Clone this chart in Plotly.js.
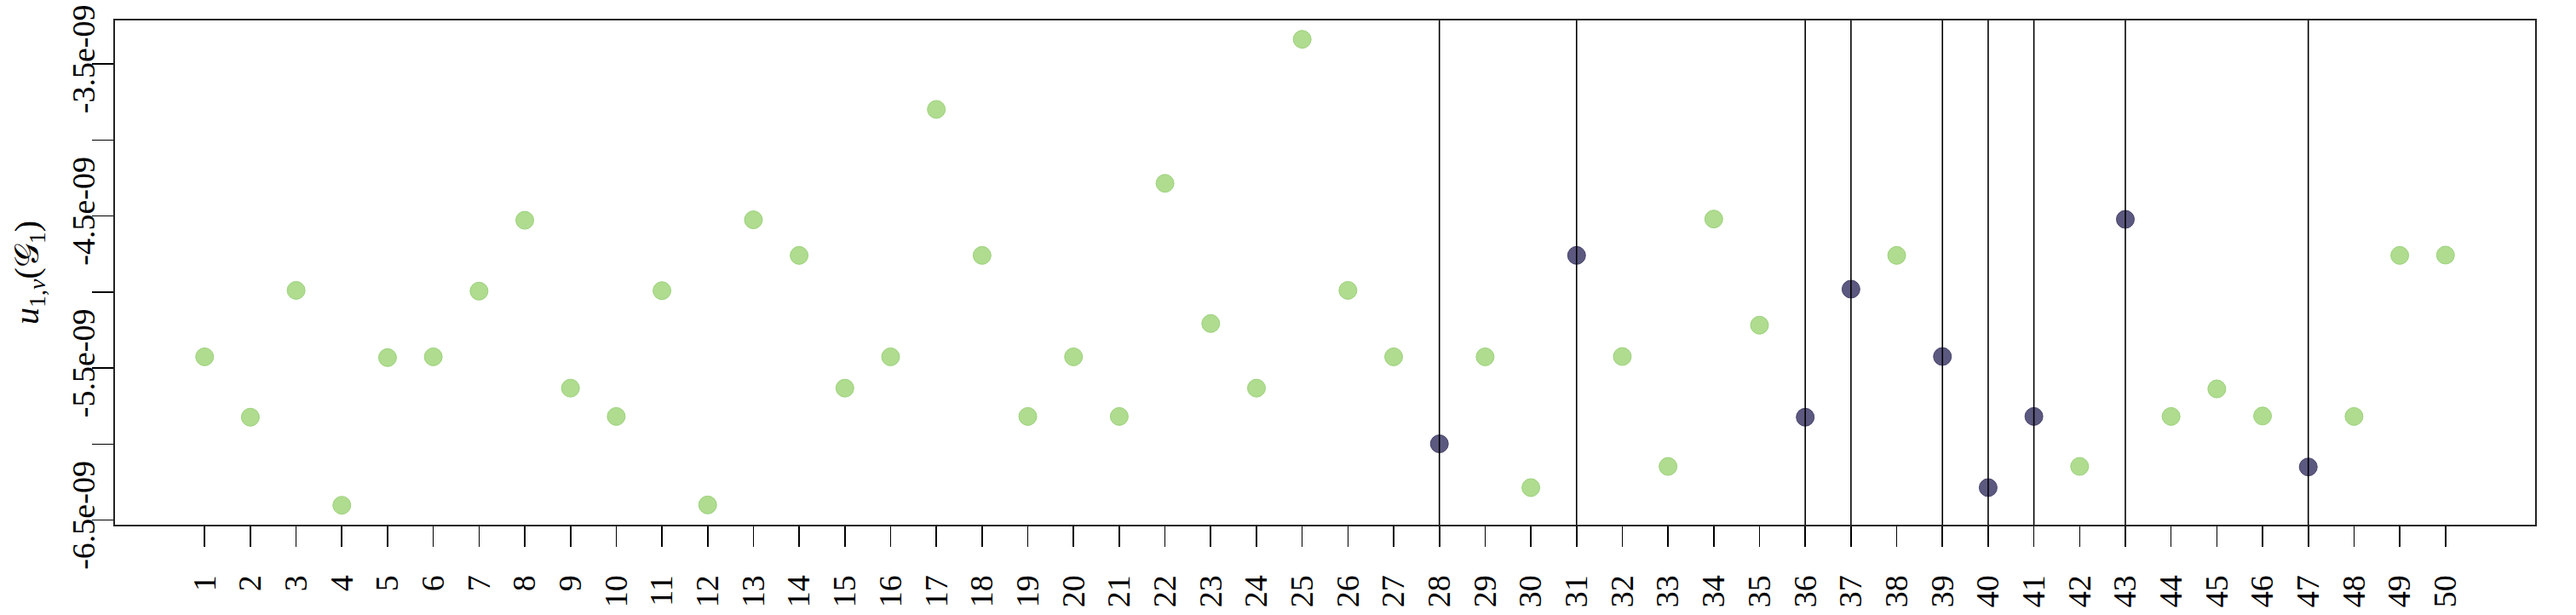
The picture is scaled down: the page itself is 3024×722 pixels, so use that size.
<!DOCTYPE html>
<html>
<head>
<meta charset="utf-8">
<script src="https://cdn.plot.ly/plotly-3.0.1.min.js"></script>
<style>html,body{margin:0;padding:0;background:#fff;}#chart{width:3024px;height:722px;}</style>
</head>
<body>
<div id="chart"></div>
<script>
// Node indices (x categories)
const nodes = [1,2,3,4,5,6,7,8,9,10,11,12,13,14,15,16,17,18,19,20,21,22,23,24,25,26,27,28,29,30,31,32,33,34,35,36,37,38,39,40,41,42,43,44,45,46,47,48,49,50];
// u_{1,v}(G_1) values for each node
const values = [
  -5.426e-9, -5.823e-9, -4.989e-9, -6.402e-9, -5.431e-9, -5.426e-9, -4.994e-9, -4.528e-9, -5.632e-9, -5.818e-9,
  -4.991e-9, -6.400e-9, -4.525e-9, -4.759e-9, -5.632e-9, -5.426e-9, -3.799e-9, -4.759e-9, -5.818e-9, -5.426e-9,
  -5.818e-9, -4.285e-9, -5.207e-9, -5.632e-9, -3.338e-9, -4.989e-9, -5.426e-9, -5.998e-9, -5.426e-9, -6.286e-9,
  -4.759e-9, -5.424e-9, -6.147e-9, -4.520e-9, -5.218e-9, -5.823e-9, -4.981e-9, -4.759e-9, -5.424e-9, -6.286e-9,
  -5.818e-9, -6.147e-9, -4.522e-9, -5.818e-9, -5.637e-9, -5.815e-9, -6.150e-9, -5.818e-9, -4.759e-9, -4.757e-9
];
// Highlighted nodes (dark markers with vertical lines)
const highlighted = [28,31,36,37,39,40,41,43,47];
// Y tick positions and labels
const yTickVals = [-6.5e-9, -6.0e-9, -5.5e-9, -5.0e-9, -4.5e-9, -4.0e-9, -3.5e-9];
const yTickText = ['-6.5e-09', ' ', '-5.5e-09', ' ', '-4.5e-09', ' ', '-3.5e-09'];
const xTickText = nodes.map(String);
const yRange = [-6.53e-9, -3.214e-9];

const isHi = nodes.map(n => highlighted.includes(n));
const normX = nodes.filter((n, i) => !isHi[i]);
const normY = values.filter((v, i) => !isHi[i]);
const hiX = nodes.filter((n, i) => isHi[i]);
const hiY = values.filter((v, i) => isHi[i]);

const fontFam = 'Liberation Serif, serif';

const traces = [
  {x: normX, y: normY, type: 'scatter', mode: 'markers', yaxis: 'y',
   marker: {size: 21, color: 'rgba(168,217,134,0.92)', line: {color: 'rgba(150,206,115,0.9)', width: 1}},
   showlegend: false, hoverinfo: 'x+y'},
  {x: hiX, y: hiY, type: 'scatter', mode: 'markers', yaxis: 'y2',
   marker: {size: 21, color: 'rgba(70,66,110,0.88)', line: {color: 'rgba(60,56,96,0.9)', width: 1}},
   showlegend: false, hoverinfo: 'x+y'}
];

const shapes = highlighted.map(n => ({
  type: 'line', xref: 'x', yref: 'paper', x0: n, x1: n, y0: 0, y1: 1,
  line: {color: '#000', width: 1.6}, layer: 'above'
}));

const layout = {
  width: 3024, height: 722,
  margin: {l: 135, r: 48, t: 24, b: 106, pad: 0},
  paper_bgcolor: '#fff', plot_bgcolor: '#fff',
  font: {family: fontFam, color: '#000', size: 38},
  showlegend: false,
  xaxis: {
    range: [-0.96, 51.96], tickmode: 'array', tickvals: nodes, ticktext: xTickText,
    tickangle: -90, ticks: 'outside', ticklen: 24, tickwidth: 1.6, tickcolor: '#000',
    ticklabelstandoff: 18,
    showline: true, mirror: true, linecolor: '#222', linewidth: 2,
    showgrid: false, zeroline: false, automargin: false,
    tickfont: {family: fontFam, size: 38, color: '#000'}
  },
  // main y axis: frame and outward tick marks
  yaxis: {
    range: yRange, tickmode: 'array', tickvals: yTickVals,
    ticks: 'outside', ticklen: 25, tickwidth: 1.6, tickcolor: '#000',
    showticklabels: false,
    showline: true, mirror: true, linecolor: '#222', linewidth: 2,
    showgrid: false, zeroline: false, automargin: false
  },
  // overlaid y axis: tick labels and title
  yaxis2: {
    overlaying: 'y', side: 'left', anchor: 'x',
    range: yRange, tickmode: 'array', tickvals: yTickVals, ticktext: yTickText,
    tickangle: -90, ticks: '', ticklabelstandoff: 15,
    showline: false, showgrid: false, zeroline: false, automargin: false,
    tickfont: {family: fontFam, size: 38, color: '#000'},
    title: {text: '<i>u</i><sub>1,<i>v</i></sub>(𝒢<sub>1</sub>)', font: {family: fontFam, size: 40, color: '#000'}, standoff: 19}
  },
  shapes: shapes
};

Plotly.newPlot('chart', traces, layout, {staticPlot: true, displayModeBar: false});
</script>
</body>
</html>
